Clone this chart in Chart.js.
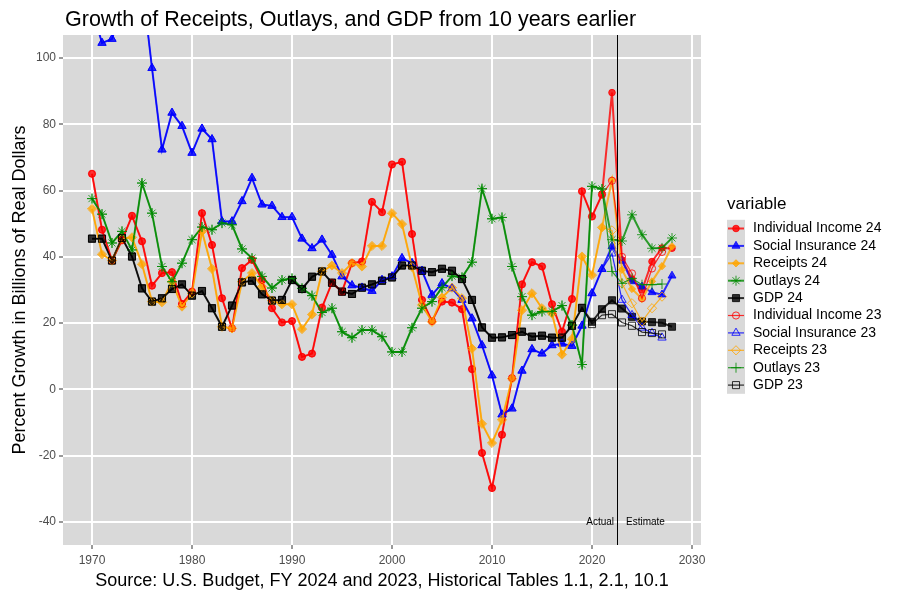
<!DOCTYPE html>
<html>
<head>
<meta charset="utf-8">
<script src="https://cdn.jsdelivr.net/npm/chart.js@4.4.0/dist/chart.umd.min.js"></script>
<style>
html,body{margin:0;padding:0;background:#ffffff;}
canvas{display:block;}
</style>
</head>
<body>
<canvas id="c" width="900" height="600"></canvas>
<script>
// ---------------- DATA ----------------
const years24 = [1970,1971,1972,1973,1974,1975,1976,1977,1978,1979,
  1980,1981,1982,1983,1984,1985,1986,1987,1988,1989,
  1990,1991,1992,1993,1994,1995,1996,1997,1998,1999,
  2000,2001,2002,2003,2004,2005,2006,2007,2008,2009,
  2010,2011,2012,2013,2014,2015,2016,2017,2018,2019,
  2020,2021,2022,2023,2024,2025,2026,2027,2028];
const years23 = [1970,1971,1972,1973,1974,1975,1976,1977,1978,1979,
  1980,1981,1982,1983,1984,1985,1986,1987,1988,1989,
  1990,1991,1992,1993,1994,1995,1996,1997,1998,1999,
  2000,2001,2002,2003,2004,2005,2006,2007,2008,2009,
  2010,2011,2012,2013,2014,2015,2016,2017,2018,2019,
  2020,2021,2022,2023,2024,2025,2026,2027];

const indIncome24 = [65.1,48.2,38.9,45.0,52.4,44.7,31.3,35.1,35.4,25.8,
  29.5,53.2,43.6,27.5,18.4,36.6,39.1,33.0,24.5,20.2,
  20.6,9.8,10.8,24.7,32.2,29.5,38.1,38.6,56.6,53.5,
  67.9,68.7,46.9,27.0,20.6,26.5,26.2,24.2,6.1,-19.2,
  -29.8,-13.7,3.4,31.7,38.4,37.1,25.7,17.4,27.3,59.8,
  52.2,58.8,89.6,39.1,33.3,30.0,38.6,42.7,42.6];
const socIns24 = [115,104.6,105.8,116,120,123,97.0,72.4,83.5,79.5,
  71.4,78.7,75.5,50.7,50.7,56.8,63.8,55.8,55.4,52.0,
  52.0,45.5,42.6,45.2,40.6,34.1,31.4,30.7,29.7,33.0,
  34.1,39.6,38.1,35.8,28.5,32.0,30.5,27.0,21.4,13.3,
  4.2,-7.6,-5.8,5.6,12.1,10.8,13.3,13.8,13.1,19.2,
  29.0,36.3,43.2,38.8,32.6,31.0,29.3,28.6,34.3];
const receipts24 = [54.5,40.8,38.9,45.5,45.9,37.8,26.5,26.3,32.5,25.0,
  29.0,47.7,36.4,18.9,18.4,32.5,35.1,31.0,26.8,25.7,
  25.7,18.2,22.6,35.6,37.4,35.1,38.1,37.1,43.3,43.3,
  53.2,49.9,37.0,25.5,20.4,27.7,30.7,27.5,12.3,-10.4,
  -16.2,-9.2,3.2,23.9,29.0,24.5,22.9,10.5,15.2,40.1,
  34.5,48.9,63.2,36.1,30.3,27.3,32.6,37.2,43.2];
const outlays24 = [57.6,52.9,44.2,47.7,42.1,62.3,53.2,37.1,32.5,38.1,
  45.2,49.0,48.2,50.2,49.7,42.4,39.6,34.1,30.6,33.0,
  33.5,30.5,28.3,23.2,24.5,17.4,15.6,17.9,17.9,15.9,
  11.3,11.3,18.6,24.5,26.5,30.7,34.2,33.8,38.4,60.6,
  51.5,51.9,37.1,28.0,22.4,23.5,23.5,25.3,19.4,7.5,
  61.3,60.5,45.2,44.8,52.7,46.7,42.6,42.7,45.7];
const gdp24 = [45.5,45.5,38.9,45.7,40.1,30.5,26.5,27.5,30.3,31.7,
  28.3,29.7,24.5,18.9,25.3,32.3,32.8,28.7,26.8,27.0,
  33.0,30.3,34.0,35.6,32.2,29.5,28.8,30.7,31.7,32.8,
  33.8,37.4,37.4,35.8,35.4,36.4,35.8,33.3,27.0,18.7,
  15.6,15.7,16.4,17.4,15.9,16.2,15.6,15.6,19.2,24.6,
  20.4,24.2,26.9,24.4,21.9,20.5,20.3,20.1,18.9];

const indIncome23 = [65.1,48.2,38.9,45.0,52.4,44.7,31.3,35.1,35.4,25.8,
  29.5,53.2,43.6,27.5,18.4,36.6,39.1,33.0,24.5,20.2,
  20.6,9.8,10.8,24.7,32.2,29.5,38.1,38.6,56.6,53.5,
  67.9,68.7,46.9,27.0,20.6,26.5,26.2,24.2,6.1,-19.2,
  -29.8,-13.7,3.4,31.7,38.4,37.1,25.7,17.4,27.3,59.8,
  52.2,58.8,63.0,40.0,35.0,27.5,36.5,41.5];
const socIns23 = [115,104.6,105.8,116,120,123,97.0,72.4,83.5,79.5,
  71.4,78.7,75.5,50.7,50.7,56.8,63.8,55.8,55.4,52.0,
  52.0,45.5,42.6,45.2,40.6,34.1,31.4,30.7,29.7,33.0,
  34.1,39.6,38.1,35.8,28.5,32.0,30.5,27.0,21.4,13.3,
  4.2,-7.6,-5.8,5.6,12.1,10.8,13.3,13.8,13.1,19.2,
  29.0,36.3,41.0,27.0,22.4,18.6,17.0,15.6];
const receipts23 = [54.5,40.8,38.9,45.5,45.9,37.8,26.5,26.3,32.5,25.0,
  29.0,47.7,36.4,18.9,18.4,32.5,35.1,31.0,26.8,25.7,
  25.7,18.2,22.6,35.6,37.4,35.1,38.1,37.1,43.3,43.3,
  53.2,49.9,37.0,25.5,20.4,27.7,30.7,27.5,12.3,-10.4,
  -16.2,-9.2,3.2,23.9,29.0,24.5,22.9,10.5,15.2,40.1,
  34.5,48.9,48.0,32.0,26.0,20.5,24.5,28.0];
const outlays23 = [57.6,52.9,44.2,47.7,42.1,62.3,53.2,37.1,32.5,38.1,
  45.2,49.0,48.2,50.2,49.7,42.4,39.6,34.1,30.6,33.0,
  33.5,30.5,28.3,23.2,24.5,17.4,15.6,17.9,17.9,15.9,
  11.3,11.3,18.6,24.5,26.5,30.7,34.2,33.8,38.4,60.6,
  51.5,51.9,37.1,28.0,22.4,23.5,23.5,25.3,19.4,7.5,
  61.3,60.5,35.6,32.0,33.5,31.6,31.6,31.8];
const gdp23 = [45.5,45.5,38.9,45.7,40.1,30.5,26.5,27.5,30.3,31.7,
  28.3,29.7,24.5,18.9,25.3,32.3,32.8,28.7,26.8,27.0,
  33.0,30.3,34.0,35.6,32.2,29.5,28.8,30.7,31.7,32.8,
  33.8,37.4,37.4,35.8,35.4,36.4,35.8,33.3,27.0,18.7,
  15.6,15.7,16.4,17.4,15.9,16.2,15.6,15.6,19.2,24.6,
  19.7,22.4,22.7,20.2,19.2,17.3,17.0,16.6];

const xTicks = [1970,1980,1990,2000,2010,2020,2030];
const yTicks = [-40,-20,0,20,40,60,80,100];
const titleText = "Growth of Receipts, Outlays, and GDP from 10 years earlier";
const yTitle = "Percent Growth in Billions of Real Dollars";
const xTitle = "Source: U.S. Budget, FY 2024 and 2023, Historical Tables 1.1, 2.1, 10.1";
const legendTitle = "variable";
const dividerYear = 2022.5;

// ---------------- STYLE ----------------
const FONT = "'Liberation Sans', Arial, Helvetica, sans-serif";
const RED = 'rgba(255,0,0,0.8)';
const BLUE = 'rgba(0,0,255,0.8)';
const ORANGE = 'rgba(255,165,0,0.8)';
const GREEN = 'rgba(0,139,0,0.8)';
const BLACK = 'rgba(0,0,0,0.8)';
const NONE = 'rgba(0,0,0,0)';

const series = [
  {label:'Individual Income 24', years:years24, values:indIncome24, color:RED,    style:'circle',   r:3.3, filled:true,  lw:2},
  {label:'Social Insurance 24',  years:years24, values:socIns24,    color:BLUE,   style:'triangle', r:4.6, filled:true,  lw:2},
  {label:'Receipts 24',          years:years24, values:receipts24,  color:ORANGE, style:'rectRot',  r:3.6, filled:true,  lw:2},
  {label:'Outlays 24',           years:years24, values:outlays24,   color:GREEN,  style:'star',     r:5,   filled:false, lw:2},
  {label:'GDP 24',               years:years24, values:gdp24,       color:BLACK,  style:'rect',     r:5,   filled:true,  lw:2},
  {label:'Individual Income 23', years:years23, values:indIncome23, color:RED,    style:'circle',   r:3.6, filled:false, lw:1.2},
  {label:'Social Insurance 23',  years:years23, values:socIns23,    color:BLUE,   style:'triangle', r:4.8, filled:false, lw:1.2},
  {label:'Receipts 23',          years:years23, values:receipts23,  color:ORANGE, style:'rectRot',  r:4.6, filled:false, lw:1.2},
  {label:'Outlays 23',           years:years23, values:outlays23,   color:GREEN,  style:'cross',    r:5,   filled:false, lw:1.2},
  {label:'GDP 23',               years:years23, values:gdp23,       color:BLACK,  style:'rect',     r:5,   filled:false, lw:1.2}
];

const datasets = series.map((s, i) => ({
  label: s.label,
  data: s.years.map((y, k) => ({x: y, y: s.values[k]})),
  borderColor: s.color,
  backgroundColor: s.color,
  borderWidth: s.lw,
  pointStyle: s.style,
  pointRadius: s.r,
  pointHoverRadius: s.r,
  pointBackgroundColor: s.filled ? s.color : NONE,
  pointBorderColor: s.color,
  pointBorderWidth: 1,
  tension: 0,
  fill: false,
  order: series.length - i
}));

const bgPlugin = {
  id: 'panelBg',
  beforeDraw(chart) {
    const {ctx, chartArea: a} = chart;
    ctx.save();
    ctx.fillStyle = '#ffffff';
    ctx.fillRect(0, 0, chart.width, chart.height);
    ctx.fillStyle = '#D9D9D9';
    ctx.fillRect(a.left, a.top, a.right - a.left, a.bottom - a.top);
    ctx.restore();
  }
};

const overlayPlugin = {
  id: 'overlay',
  afterDatasetsDraw(chart) {
    const {ctx, chartArea: a, scales} = chart;
    const x = scales.x.getPixelForValue(dividerYear);
    const y = scales.y.getPixelForValue(-40);
    ctx.save();
    ctx.strokeStyle = '#000000';
    ctx.lineWidth = 1;
    ctx.beginPath();
    ctx.moveTo(Math.round(x) + 0.5, a.top);
    ctx.lineTo(Math.round(x) + 0.5, a.bottom);
    ctx.stroke();
    ctx.fillStyle = '#000000';
    ctx.font = '10px ' + FONT;
    ctx.textBaseline = 'middle';
    ctx.textAlign = 'right';
    ctx.fillText('Actual', x - 3, y);
    ctx.textAlign = 'left';
    ctx.fillText('Estimate', x + 9, y);
    ctx.restore();
  },
  afterDraw(chart) {
    const ctx = chart.ctx;
    ctx.save();
    // title
    ctx.fillStyle = '#000000';
    ctx.font = '21.5px ' + FONT;
    ctx.textBaseline = 'middle';
    ctx.textAlign = 'left';
    ctx.fillText(titleText, 65, 20);
    // legend
    const keyL = 727, keyR = 745, top0 = 228.5, step = 17.4;
    ctx.font = '17px ' + FONT;
    ctx.fillText(legendTitle, 727, 204);
    ctx.fillStyle = '#D9D9D9';
    ctx.fillRect(keyL, top0 - step / 2, keyR - keyL, step * series.length);
    ctx.font = '14px ' + FONT;
    series.forEach((s, i) => {
      const cy = top0 + i * step;
      ctx.strokeStyle = s.color;
      ctx.lineWidth = s.lw;
      ctx.beginPath();
      ctx.moveTo(keyL + 1, cy);
      ctx.lineTo(keyR - 1, cy);
      ctx.stroke();
      ctx.fillStyle = s.filled ? s.color : NONE;
      ctx.strokeStyle = s.color;
      ctx.lineWidth = 1;
      Chart.helpers.drawPoint(ctx, {pointStyle: s.style, radius: s.r, rotation: 0, borderWidth: 1}, (keyL + keyR) / 2, cy);
      ctx.fillStyle = '#000000';
      ctx.textAlign = 'left';
      ctx.textBaseline = 'middle';
      ctx.fillText(s.label, 753, cy);
    });
    ctx.restore();
  }
};

new Chart(document.getElementById('c'), {
  type: 'line',
  data: { datasets },
  plugins: [bgPlugin, overlayPlugin],
  options: {
    responsive: false,
    animation: false,
    devicePixelRatio: 1,
    layout: { padding: { top: 35, right: 199, bottom: 0, left: 0 } },
    plugins: { legend: { display: false }, title: { display: false }, tooltip: { enabled: false } },
    scales: {
      x: {
        type: 'linear',
        min: 1967.1,
        max: 2030.9,
        afterFit(s) { s.height = 55; },
        afterBuildTicks(s) { s.ticks = xTicks.map(v => ({value: v})); },
        ticks: { color: '#4D4D4D', font: { size: 12, family: FONT }, padding: 4, maxRotation: 0, autoSkip: false,
                 callback: v => String(v) },
        grid: { color: '#FFFFFF', lineWidth: 2, tickColor: '#333333', tickLength: 4, tickWidth: 1 },
        border: { display: false },
        title: { display: true, text: xTitle, color: '#000000', font: { size: 18, family: FONT }, padding: { top: 0, bottom: 8 } }
      },
      y: {
        type: 'linear',
        min: -47,
        max: 107,
        afterFit(s) { s.width = 63; },
        afterBuildTicks(s) { s.ticks = yTicks.map(v => ({value: v})); },
        ticks: { color: '#4D4D4D', font: { size: 12, family: FONT }, padding: 3, autoSkip: false,
                 callback: v => String(v) },
        grid: { color: '#FFFFFF', lineWidth: 2, tickColor: '#333333', tickLength: 4, tickWidth: 1 },
        border: { display: false },
        title: { display: true, text: yTitle, color: '#000000', font: { size: 18, family: FONT }, padding: { top: 9, bottom: 0 } }
      }
    }
  }
});
</script>
</body>
</html>
